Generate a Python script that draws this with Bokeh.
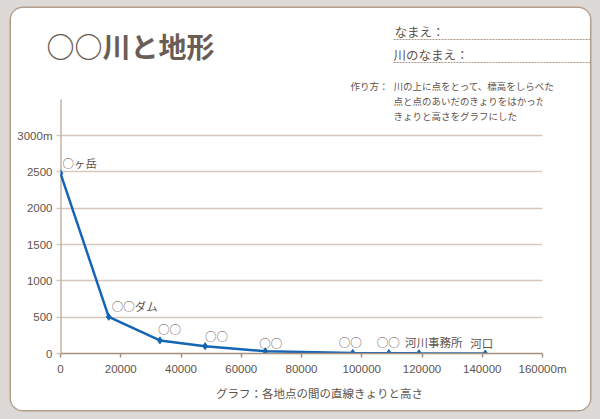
from bokeh.plotting import figure
from bokeh.layouts import column
from bokeh.models import Range1d, FixedTicker, Label, ColumnDataSource
from bokeh.core.properties import value
from bokeh.embed import file_html
from bokeh.resources import INLINE

# ---- data ----
distance_m = [0, 16000, 33000, 48000, 68000, 97000, 109000, 119000, 141000]
elevation_m = [2480, 505, 180, 100, 30, 8, 5, 3, 0]
place_names = ["○ヶ岳", "○○ダム", "○○", "○○", "○○", "○○", "○○", "河川事務所", "河口"]
x_ticks = [0, 20000, 40000, 60000, 80000, 100000, 120000, 140000, 160000]
x_tick_labels = ["0", "20000", "40000", "60000", "80000", "100000", "120000", "140000", "160000m"]
y_ticks = [0, 500, 1000, 1500, 2000, 2500, 3000]
y_tick_labels = ["0", "500", "1000", "1500", "2000", "2500", "3000m"]

title_text = "○○川と地形"
name_text = "なまえ："
river_name_text = "川のなまえ："
method_head = "作り方："
method_lines = ["川の上に点をとって、標高をしらべた",
                "点と点のあいだのきょりをはかった",
                "きょりと高さをグラフにした"]
x_caption = "グラフ：各地点の間の直線きょりと高さ"

# label offsets (screen px, y positive = up) for place names
label_dx = [2, 3, -2, 0, -6, -14, -12, -14, -15]
label_dy = [10, 11, 11, 10, 8, 11, 11, 11, 11]

JP = "Noto Sans CJK JP"
TXT = "#5f534c"
GRID = "#d5c8bb"
AXIS = "#a38f7f"
BLUE = "#1565b4"

W = 579          # card width  (page x 11..590)
H_TOTAL = 402    # card height (page y 8..410)
H_HEAD = 84      # header height (page y 8..92)
H_FOOT = 26      # footer height (page y 384..410)
OX, OY = 11, 8   # card origin on page


def bare_figure(h):
    f = figure(width=W, height=h, output_backend="svg", toolbar_location=None,
               x_range=Range1d(0, W), y_range=Range1d(0, h),
               min_border=0, x_axis_type=None, y_axis_type=None)
    f.frame_align = False
    f.background_fill_color = "white"
    f.border_fill_color = "white"
    f.outline_line_color = None
    f.grid.visible = False
    return f

# ---------------- header figure (title, name fields) ----------------
head = bare_figure(H_HEAD)

def hx(px):
    return px - OX

def hy(py):
    return H_HEAD - (py - OY)

head.text(x=[hx(46)], y=[hy(45)], text=[title_text], text_font=value(JP),
          text_font_size="28px", text_font_style="bold", text_color="#6b5d55",
          text_baseline="middle", text_align="left")
head.text(x=[hx(394)], y=[hy(31)], text=[name_text], text_font=value(JP),
          text_font_size="12.5px", text_color=TXT, text_baseline="middle", text_align="left")
head.text(x=[hx(393)], y=[hy(54)], text=[river_name_text], text_font=value(JP),
          text_font_size="12.5px", text_color=TXT, text_baseline="middle", text_align="left")
head.segment(x0=[hx(393), hx(393)], y0=[hy(39), hy(62)], x1=[W, W], y1=[hy(39), hy(62)],
             line_color="#a8978a", line_width=1, line_dash="2 1")
head.text(x=[hx(350)], y=[hy(85)], text=[method_head], text_font=value(JP),
          text_font_size="9.5px", text_color=TXT, text_baseline="middle", text_align="left")
head.text(x=[hx(393)], y=[hy(85)], text=[method_lines[0]], text_font=value(JP),
          text_font_size="9.5px", text_color=TXT, text_baseline="middle", text_align="left")

# ---------------- chart figure ----------------
CH = H_TOTAL - H_HEAD - H_FOOT      # chart canvas height
frame_top_page = OY + H_HEAD        # 92
frame_bottom_page = 353
frame_h = frame_bottom_page - frame_top_page
px_per_unit = (353 - 135) / 3000.0
y_end = frame_h / px_per_unit
bottom_border = (OY + H_TOTAL - H_FOOT) - frame_bottom_page

p = figure(width=W, height=CH, output_backend="svg", toolbar_location=None,
           x_range=Range1d(0, 160000), y_range=Range1d(0, y_end),
           min_border_left=49, min_border_right=48, min_border_top=0,
           min_border_bottom=bottom_border)
p.frame_align = False
p.background_fill_color = "white"
p.border_fill_color = "white"
p.outline_line_color = None

p.xaxis.ticker = FixedTicker(ticks=x_ticks)
p.xaxis.major_label_overrides = {t: l for t, l in zip(x_ticks, x_tick_labels)}
p.yaxis.ticker = FixedTicker(ticks=y_ticks)
p.yaxis.major_label_overrides = {t: l for t, l in zip(y_ticks, y_tick_labels)}
for ax in (p.xaxis, p.yaxis):
    ax.minor_tick_line_color = None
    ax.major_label_text_font = "Liberation Sans"
    ax.major_label_text_font_size = "11.5px"
    ax.major_label_text_color = TXT
    ax.major_tick_in = 0
p.xaxis.axis_line_color = AXIS
p.xaxis.axis_line_width = 1.5
p.xaxis.major_tick_out = 4
p.xaxis.major_tick_line_color = AXIS
p.xaxis.major_tick_line_width = 1.5
p.xaxis.major_label_standoff = 5
p.yaxis.axis_line_color = None
p.yaxis.major_tick_out = 4
p.yaxis.major_tick_line_color = GRID
p.yaxis.major_tick_line_width = 1.5
p.yaxis.major_label_standoff = 4

p.xgrid.grid_line_color = None
p.ygrid.grid_line_color = GRID
p.ygrid.grid_line_width = 1.5

# y axis line (from 0 up to page y 99)
axis_top_value = (353 - 99) / px_per_unit
p.segment(x0=[0], y0=[0], x1=[0], y1=[axis_top_value], line_color=AXIS, line_width=2)

# remaining method lines, inside the chart frame (screen units from frame)
for i, t in enumerate(method_lines[1:]):
    p.add_layout(Label(x=393 - 60, y=353 - (100 + 15 * i), x_units="screen", y_units="screen",
                       text=t, text_font=JP, text_font_size="9.5px", text_color=TXT,
                       text_baseline="middle"))

src = ColumnDataSource(dict(x=distance_m, y=elevation_m, name=place_names,
                            dx=label_dx, ndy=[-d for d in label_dy]))
p.line("x", "y", source=src, line_color=BLUE, line_width=2.5)
p.scatter("x", "y", source=src, marker="diamond", size=7, color=BLUE)
p.text(x="x", y="y", text="name", source=src, x_offset="dx", y_offset="ndy",
       text_font=value(JP), text_font_size="11.5px", text_color=TXT,
       text_baseline="middle", text_align="left")

# ---------------- footer figure (caption) ----------------
foot = bare_figure(H_FOOT)
foot_top_page = OY + H_TOTAL - H_FOOT
foot.text(x=[319 - OX], y=[H_FOOT - (392 - foot_top_page)], text=[x_caption],
          text_font=value(JP), text_font_size="11.5px", text_color=TXT,
          text_baseline="middle", text_align="center")

card = column(head, p, foot, spacing=0)
card.styles = {"margin-left": f"{OX}px", "margin-top": f"{OY}px", "border-radius": "12px",
               "box-shadow": "0 0 0 1.5px #b39e8c", "overflow": "hidden",
               "background": "white"}

html = file_html(card, INLINE)
html = html.replace("</head>", "<style>html,body{background:#dcd9d6;margin:0;}</style></head>", 1)
open("out.html", "w").write(html)
